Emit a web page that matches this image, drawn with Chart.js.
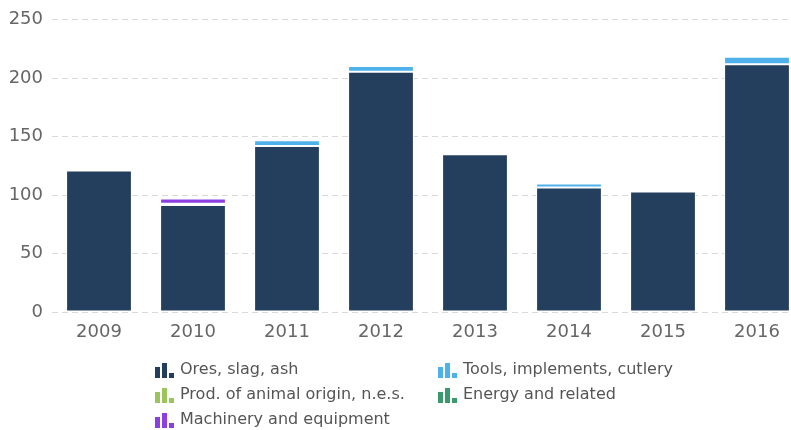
<!DOCTYPE html>
<html>
<head>
<meta charset="utf-8">
<script src="https://cdn.jsdelivr.net/npm/chart.js@4.4.1/dist/chart.umd.min.js"></script>
<style>
  html, body { margin: 0; padding: 0; background: #fff; }
  #wrap { width: 791px; height: 430px; overflow: hidden; }
  #inner { width: 804px; height: 430px; position: relative; }
</style>
</head>
<body>
<div id="wrap"><div id="inner"><canvas id="exportsChart"></canvas></div></div>
<script>
const years = ["2009", "2010", "2011", "2012", "2013", "2014", "2015", "2016"];

const oresSlagAsh = [121, 91.5, 142, 205.5, 135, 106.5, 103, 212];
const toolsCutlery = [0, 0, 5, 5, 0, 3.4, 0, 6.3];
const animalOrigin = [0, 1.2, 0, 0.1, 0, 0, 0, 0];
const energyRelated = [0, 0, 0, 0, 0, 0, 0.1, 0];
const machinery = [0, 4.5, 0, 0, 0, 0, 0, 0];

const yTicks = [0, 50, 100, 150, 200, 250];

const series = [
  { label: "Ores, slag, ash", data: oresSlagAsh, color: "#243f5e" },
  { label: "Tools, implements, cutlery", data: toolsCutlery, color: "#4fb1ea" },
  { label: "Prod. of animal origin, n.e.s.", data: animalOrigin, color: "#9bc55a" },
  { label: "Energy and related", data: energyRelated, color: "#3a9a6e" },
  { label: "Machinery and equipment", data: machinery, color: "#8b3fe0" },
];

// little three-bar glyph used as the legend marker
function drawBarIcon(ctx, x, y, color) {
  const heights = [11, 15, 5];
  ctx.fillStyle = color;
  heights.forEach((h, i) => {
    ctx.fillRect(x + i * 7, y + 15 - h, 5, h);
  });
}

// two-column legend under the axis
const gridLegend = {
  id: "gridLegend",
  afterDraw(chart) {
    const ctx = chart.ctx;
    const cols = [155, 438];
    const rows = [370, 395, 420];
    ctx.save();
    ctx.font = "16px 'DejaVu Sans'";
    ctx.textBaseline = "middle";
    chart.data.datasets.forEach((ds, i) => {
      const x = cols[i % 2];
      const y = rows[Math.floor(i / 2)];
      drawBarIcon(ctx, x, y - 7, ds.backgroundColor);
      ctx.fillStyle = "#555";
      ctx.fillText(ds.label, x + 25, y);
    });
    ctx.restore();
  },
};

const ctx = document.getElementById("exportsChart").getContext("2d");
new Chart(ctx, {
  type: "bar",
  data: {
    labels: years,
    datasets: series.map((s) => ({
      label: s.label,
      data: s.data,
      backgroundColor: s.color,
      borderColor: "#ffffff",
      borderWidth: 1,
      borderSkipped: false,
      barPercentage: 0.7,
      categoryPercentage: 1,
    })),
  },
  options: {
    responsive: true,
    maintainAspectRatio: false,
    animation: false,
    layout: {
      padding: { top: 16, right: 0, bottom: 0, left: 0 },
    },
    scales: {
      x: {
        stacked: true,
        grid: { display: false },
        border: { display: false },
        ticks: {
          color: "#666",
          font: { family: "DejaVu Sans", size: 18 },
          padding: 2,
        },
        afterFit: (scale) => { scale.height = 118; },
      },
      y: {
        stacked: true,
        min: 0,
        max: 250,
        afterBuildTicks: (scale) => {
          scale.ticks = yTicks.map((v) => ({ value: v }));
        },
        grid: {
          color: "#d9d9d9",
          drawTicks: false,
        },
        border: { display: false, dash: [6, 4] },
        ticks: {
          color: "#666",
          font: { family: "DejaVu Sans", size: 18 },
          padding: 9,
        },
        afterFit: (scale) => { scale.width = 52; },
      },
    },
    plugins: {
      legend: { display: false },
      tooltip: { enabled: false },
    },
  },
  plugins: [gridLegend],
});
</script>
</body>
</html>
